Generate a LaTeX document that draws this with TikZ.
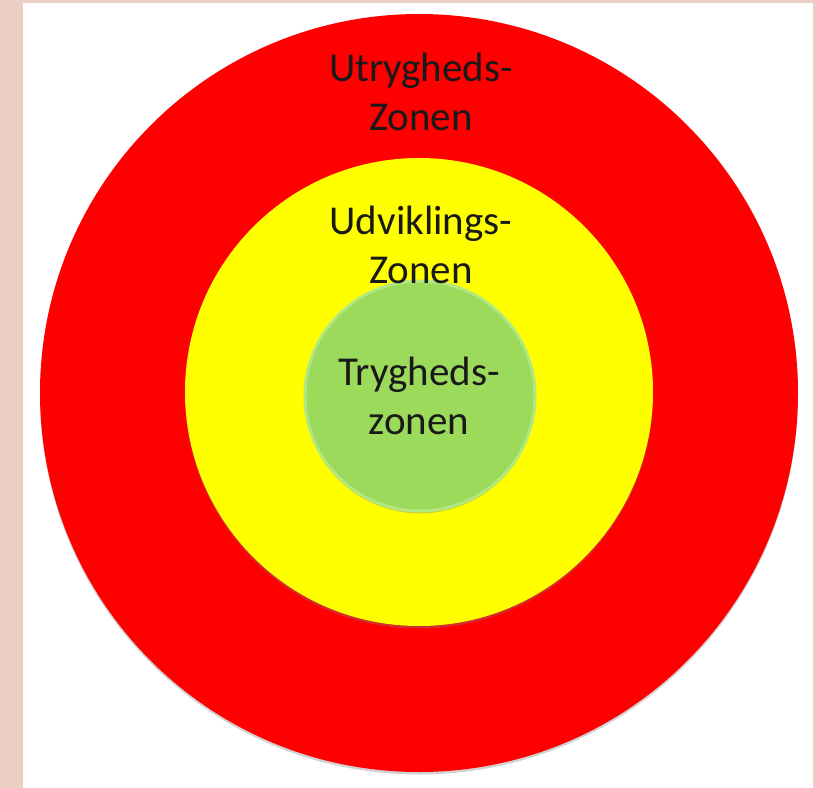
\documentclass[tikz,border=0pt]{standalone}
\usepackage{fontspec}
\setmainfont{Carlito}
\usetikzlibrary{shadows}
\definecolor{zonered}{RGB}{255,0,0}
\definecolor{zoneyellow}{RGB}{255,255,0}
\definecolor{zonegreen}{RGB}{155,218,90}
\definecolor{zonegreenrim}{RGB}{178,232,128}
\definecolor{framepink}{RGB}{235,207,197}
\tikzstyle{zone} = [circle, inner sep=0pt, draw=none,
    drop shadow={opacity=0.35, shadow xshift=0pt, shadow yshift=-2.5pt}]
\tikzstyle{zonetext} = [align=center, inner sep=0pt, anchor=base,
    font=\fontsize{41}{49}\selectfont, text=black!90]

\begin{document}
\begin{tikzpicture}[x=1pt, y=-1pt]

% frame
\fill[framepink] (0,0) rectangle (815,788);
\fill[white] (23,3) rectangle (813,788);
\useasboundingbox (0,0) rectangle (815,788);

% zones
\node[zone, fill=zonered, minimum size=758pt] (outer) at (419,393) {};
\node[zone, fill=zoneyellow, minimum size=468pt] (middle) at (419,392) {};
\node[zone, fill=zonegreen, minimum size=230pt, draw=zonegreenrim, line width=3pt] (inner) at (420,396) {};

% labels (base = baseline of the last line)
\node[zonetext] (outerlabel) at (421,130) {Utrygheds-\\Zonen};
\node[zonetext] (middlelabel) at (421,283) {Udviklings-\\Zonen};
\node[zonetext] (innerlabel) at (419,434) {Trygheds-\\zonen};

\end{tikzpicture}
\end{document}
